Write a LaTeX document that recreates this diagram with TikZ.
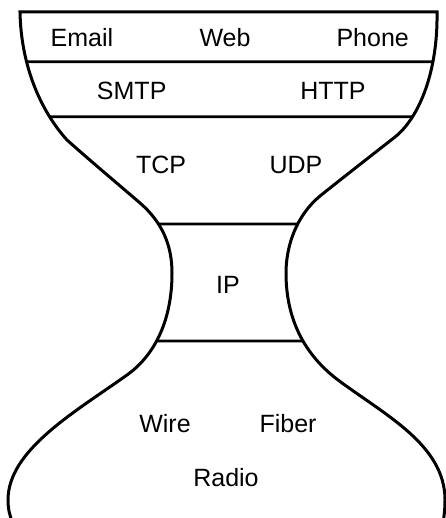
\documentclass[tikz,border=0pt]{standalone}
\usepackage{fontspec}
\setmainfont{Liberation Sans}
\usetikzlibrary{intersections}
\begin{document}
\begin{tikzpicture}[x=1pt,y=-1pt,
  outline/.style={line width=3pt, line join=miter},
  divider/.style={line width=2.7pt},
  layertext/.style={anchor=base, inner sep=0pt, font=\fontsize{25}{30}\selectfont}]
\useasboundingbox (0,0) rectangle (445,518);

% hourglass outline: up the left side, across the top, down the right side
\draw[outline, name path=hourglass]
  (13,524) .. controls (10,516) and (8,510) .. (8,500)
  .. controls (8,450) and (75,412) .. (127,375)
  .. controls (155,355) and (172,320) .. (172,273)
  .. controls (172,245) and (162,222) .. (140,203)
  .. controls (118,184) and (94,164) .. (67,140)
  .. controls (40,110) and (21,65) .. (20,12)
  -- (437,12)
  .. controls (438,70) and (420,117) .. (395,137)
  .. controls (372,155) and (345,176) .. (320,196)
  .. controls (297,215) and (286,245) .. (286,273)
  .. controls (286,320) and (305,355) .. (338,380)
  .. controls (385,415) and (445,445) .. (445,500)
  .. controls (445,510) and (444,516) .. (443,524);

% layer dividers, ending on the outline
\foreach \i/\y in {a/61.7, b/116.7, c/224, d/341} {
  \path[name path=cut\i] (0,\y) -- (445,\y);
  \path[name intersections={of=hourglass and cut\i, sort by=cut\i, by={l\i,r\i}}];
  \draw[divider] (l\i) -- (r\i);
}

% layer contents
\node[layertext] (email) at (82,46.7) {Email};
\node[layertext] (web)   at (225,46.7) {Web};
\node[layertext] (phone) at (372.7,46.7) {Phone};
\node[layertext] (smtp)  at (131.7,99.3) {SMTP};
\node[layertext] (http)  at (333,99.3) {HTTP};
\node[layertext] (tcp)   at (161,174) {TCP};
\node[layertext] (udp)   at (296,174) {UDP};
\node[layertext] (ip)    at (228,293.3) {IP};
\node[layertext] (wire)  at (165,432.3) {Wire};
\node[layertext] (fiber) at (288,432.3) {Fiber};
\node[layertext] (radio) at (226,486) {Radio};
\end{tikzpicture}
\end{document}
